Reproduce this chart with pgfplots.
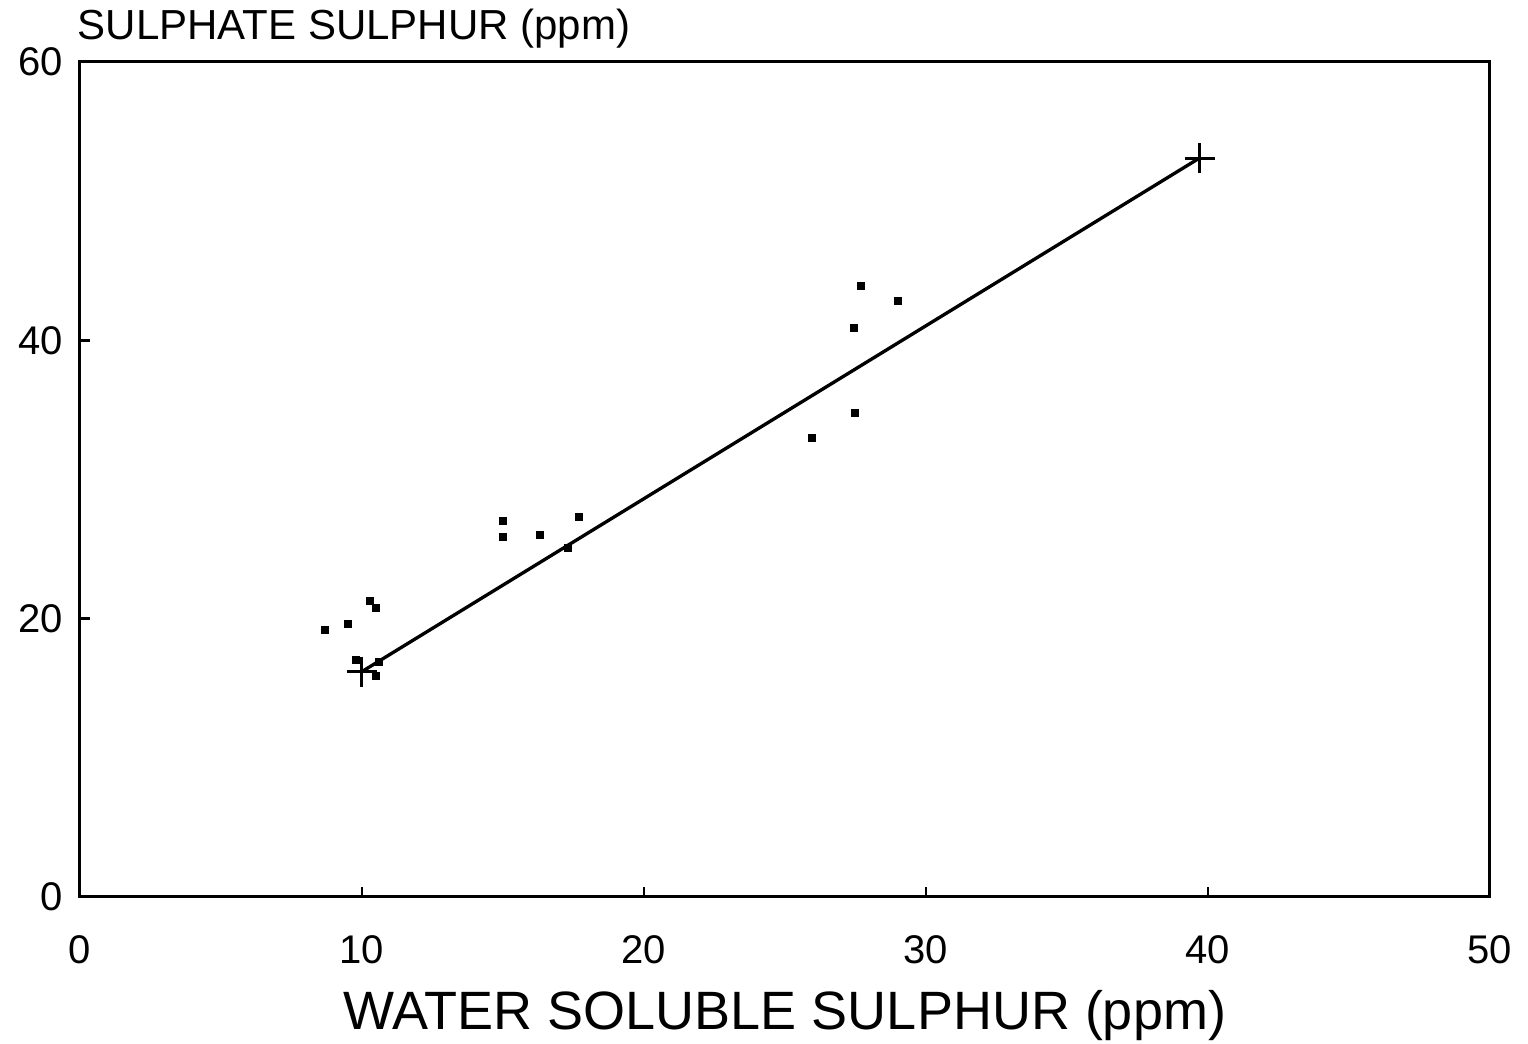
\documentclass[border=0pt]{standalone}
\usepackage{fontspec}
\setmainfont{Liberation Sans}
\usepackage{pgfplots}
\pgfplotsset{compat=1.18}
\begin{document}
\begin{tikzpicture}
\begin{axis}[
  at={(24pt,44.1pt)}, anchor=south west,
  scale only axis, width=423pt, height=250.5pt,
  xmin=0, xmax=50, ymin=0, ymax=60,
  xtick={0,10,...,50}, ytick={0,20,...,60},
  tick pos=left, tick align=inside,
  major tick length=3pt,
  axis line style={line width=0.9pt},
  every tick/.style={line width=0.8pt, black},
  /pgf/number format/assume math mode=true,
  ticklabel style={font=\fontsize{12}{14}\selectfont},
  xticklabel style={yshift=-8pt},
  yticklabel style={xshift=-1.5pt},
  xlabel={WATER SOLUBLE SULPHUR (ppm)},
  xlabel style={font=\fontsize{16.2}{18}\selectfont, yshift=-1pt},
  title={SULPHATE SULPHUR (ppm)},
  title style={font=\fontsize{12.6}{14}\selectfont, at={(axis description cs:0,1)}, anchor=south west, xshift=-4.2pt, yshift=-5.5pt},
  clip=false,
]
\addplot[only marks, mark=square*, mark size=1pt, black] coordinates {
(8.7,19.2) (9.5,19.6) (10.3,21.3) (10.5,20.8) (9.8,17.0) (10.6,16.9) (10.5,15.9)
(15.0,27.0) (15.0,25.9) (16.3,26.0) (17.7,27.3) (17.3,25.1)
(25.95,33.0) (27.5,34.8) (27.45,40.9) (27.7,43.9) (29.0,42.8)
};
\addplot[black, line width=1pt, mark=+, mark size=4.5pt, mark options={line width=0.9pt}] coordinates {
(10.0,16.2) (39.7,53.1)
};
\end{axis}
\pgfresetboundingbox
\path (0,0) rectangle (458.4pt,313.2pt);
\end{tikzpicture}
\end{document}
